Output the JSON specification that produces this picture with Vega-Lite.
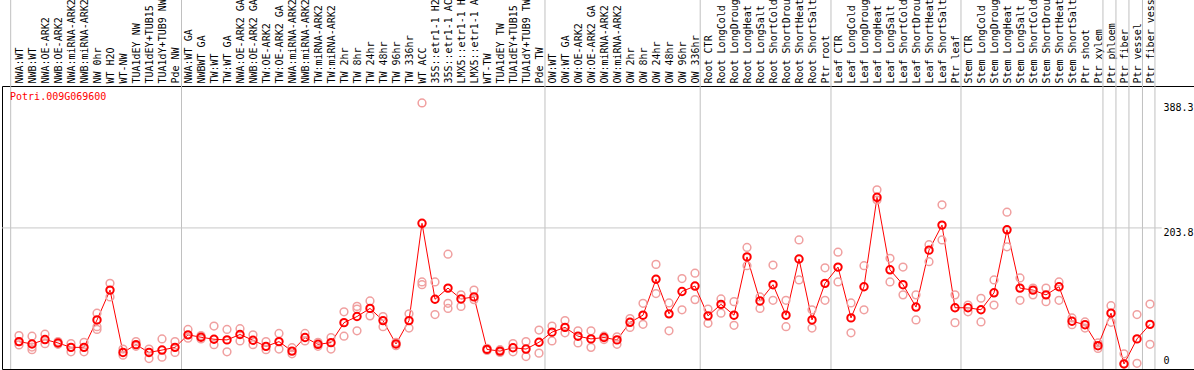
{
  "$schema": "https://vega.github.io/schema/vega-lite/v6.json",
  "width": 1192,
  "height": 283,
  "autosize": {"type": "none"},
  "padding": {"left": 2, "top": 86, "right": 0, "bottom": 1},
  "background": "white",
  "config": {"view": {"stroke": "#000000", "strokeWidth": 1}, "font": "DejaVu Sans Mono"},
  "datasets": {
    "means": [
      {"sample": "NWA:WT", "mean": 36}, {"sample": "NWB:WT", "mean": 32.5}, {"sample": "NWA:OE-ARK2", "mean": 39}, {"sample": "NWB:OE-ARK2", "mean": 34},
      {"sample": "NWA:miRNA-ARK2", "mean": 27.5}, {"sample": "NWB:miRNA-ARK2", "mean": 27.5}, {"sample": "NW 0hr", "mean": 68}, {"sample": "WT H2O", "mean": 112},
      {"sample": "WT-NW", "mean": 20}, {"sample": "TUA1dEY NW", "mean": 31.5}, {"sample": "TUA1dEY+TUB15 NW", "mean": 20}, {"sample": "TUA1dY+TUB9 NW", "mean": 23.5},
      {"sample": "Pde NW", "mean": 27.5}, {"sample": "NWA:WT GA", "mean": 46}, {"sample": "NWBWT GA", "mean": 42.5}, {"sample": "TW:WT", "mean": 39.5},
      {"sample": "TW:WT GA", "mean": 38.5}, {"sample": "NWA:OE-ARK2 GA", "mean": 46.5}, {"sample": "NWB:OE-ARK2 GA", "mean": 38}, {"sample": "TW:OE-ARK2", "mean": 29},
      {"sample": "TW:OE-ARK2 GA", "mean": 36}, {"sample": "NWA:miRNA-ARK2 GA", "mean": 22}, {"sample": "NWB:miRNA-ARK2 GA", "mean": 42}, {"sample": "TW:miRNA-ARK2", "mean": 32},
      {"sample": "TW:miRNA-ARK2 GA", "mean": 34.5}, {"sample": "TW 2hr", "mean": 64}, {"sample": "TW 8hr", "mean": 73}, {"sample": "TW 24hr", "mean": 85},
      {"sample": "TW 48hr", "mean": 67}, {"sample": "TW 96hr", "mean": 32.5}, {"sample": "TW 336hr", "mean": 67}, {"sample": "WT ACC", "mean": 210.6},
      {"sample": "35S::etr1-1 H2O", "mean": 98.5}, {"sample": "35S::etr1-1 ACC", "mean": 115}, {"sample": "LMX5::etr1-1 H2O", "mean": 99}, {"sample": "LMX5::etr1-1 ACC", "mean": 102},
      {"sample": "WT-TW", "mean": 24.5}, {"sample": "TUA1dEY TW", "mean": 22}, {"sample": "TUA1dEY+TUB15 TW", "mean": 27}, {"sample": "TUA1dY+TUB9 TW", "mean": 25},
      {"sample": "Pde TW", "mean": 35}, {"sample": "OW:WT", "mean": 50}, {"sample": "OW:WT GA", "mean": 57}, {"sample": "OW:OE-ARK2", "mean": 44},
      {"sample": "OW:OE-ARK2 GA", "mean": 40}, {"sample": "OW:miRNA-ARK2", "mean": 42}, {"sample": "OW:miRNA-ARK2 GA", "mean": 38.5}, {"sample": "OW 2hr", "mean": 64.5},
      {"sample": "OW 8hr", "mean": 75}, {"sample": "OW 24hr", "mean": 128}, {"sample": "OW 48hr", "mean": 77}, {"sample": "OW 96hr", "mean": 110},
      {"sample": "OW 336hr", "mean": 118}, {"sample": "Root CTR", "mean": 74}, {"sample": "Root LongCold", "mean": 91}, {"sample": "Root LongDrought", "mean": 75},
      {"sample": "Root LongHeat", "mean": 161}, {"sample": "Root LongSalt", "mean": 96}, {"sample": "Root ShortCold", "mean": 120}, {"sample": "Root ShortDrought", "mean": 75},
      {"sample": "Root ShortHeat", "mean": 158}, {"sample": "Root ShortSalt", "mean": 68}, {"sample": "Ptr root", "mean": 122}, {"sample": "Leaf CTR", "mean": 146},
      {"sample": "Leaf LongCold", "mean": 71}, {"sample": "Leaf LongDrought", "mean": 117}, {"sample": "Leaf LongHeat", "mean": 249}, {"sample": "Leaf LongSalt", "mean": 142},
      {"sample": "Leaf ShortCold", "mean": 120}, {"sample": "Leaf ShortDrought", "mean": 87}, {"sample": "Leaf ShortHeat", "mean": 171}, {"sample": "Leaf ShortSalt", "mean": 208},
      {"sample": "Ptr leaf", "mean": 86}, {"sample": "Stem CTR", "mean": 86}, {"sample": "Stem LongCold", "mean": 83}, {"sample": "Stem LongDrought", "mean": 108},
      {"sample": "Stem LongHeat", "mean": 201}, {"sample": "Stem LongSalt", "mean": 115}, {"sample": "Stem ShortCold", "mean": 112}, {"sample": "Stem ShortDrought", "mean": 105},
      {"sample": "Stem ShortHeat", "mean": 117}, {"sample": "Stem ShortSalt", "mean": 66}, {"sample": "Ptr shoot", "mean": 61}, {"sample": "Ptr xylem", "mean": 30},
      {"sample": "Ptr phloem", "mean": 78}, {"sample": "Ptr fiber", "mean": 3}, {"sample": "Ptr vessel", "mean": 40}, {"sample": "Ptr fiber vessel", "mean": 61.5}
    ],
    "reps": [
      {"sample": "NWA:WT", "value": 45}, {"sample": "NWA:WT", "value": 31}, {"sample": "NWA:WT", "value": 36},
      {"sample": "NWB:WT", "value": 44}, {"sample": "NWB:WT", "value": 24}, {"sample": "NWB:WT", "value": 28},
      {"sample": "NWA:OE-ARK2", "value": 47}, {"sample": "NWA:OE-ARK2", "value": 33},
      {"sample": "NWB:OE-ARK2", "value": 36}, {"sample": "NWB:OE-ARK2", "value": 32},
      {"sample": "NWA:miRNA-ARK2", "value": 33}, {"sample": "NWA:miRNA-ARK2", "value": 21},
      {"sample": "NWB:miRNA-ARK2", "value": 35}, {"sample": "NWB:miRNA-ARK2", "value": 21},
      {"sample": "NW 0hr", "value": 78}, {"sample": "NW 0hr", "value": 58}, {"sample": "NW 0hr", "value": 54},
      {"sample": "WT H2O", "value": 122}, {"sample": "WT H2O", "value": 102},
      {"sample": "WT-NW", "value": 25}, {"sample": "WT-NW", "value": 16},
      {"sample": "TUA1dEY NW", "value": 36}, {"sample": "TUA1dEY NW", "value": 29},
      {"sample": "TUA1dEY+TUB15 NW", "value": 25}, {"sample": "TUA1dEY+TUB15 NW", "value": 11},
      {"sample": "TUA1dY+TUB9 NW", "value": 40}, {"sample": "TUA1dY+TUB9 NW", "value": 13},
      {"sample": "Pde NW", "value": 36}, {"sample": "Pde NW", "value": 20},
      {"sample": "NWA:WT GA", "value": 54}, {"sample": "NWA:WT GA", "value": 41},
      {"sample": "NWBWT GA", "value": 45}, {"sample": "NWBWT GA", "value": 40},
      {"sample": "TW:WT", "value": 59}, {"sample": "TW:WT", "value": 31.5},
      {"sample": "TW:WT GA", "value": 54}, {"sample": "TW:WT GA", "value": 21},
      {"sample": "NWA:OE-ARK2 GA", "value": 55}, {"sample": "NWA:OE-ARK2 GA", "value": 37},
      {"sample": "NWB:OE-ARK2 GA", "value": 46}, {"sample": "NWB:OE-ARK2 GA", "value": 31.5},
      {"sample": "TW:OE-ARK2", "value": 36}, {"sample": "TW:OE-ARK2", "value": 24},
      {"sample": "TW:OE-ARK2 GA", "value": 48}, {"sample": "TW:OE-ARK2 GA", "value": 25},
      {"sample": "NWA:miRNA-ARK2 GA", "value": 27}, {"sample": "NWA:miRNA-ARK2 GA", "value": 18},
      {"sample": "NWB:miRNA-ARK2 GA", "value": 48}, {"sample": "NWB:miRNA-ARK2 GA", "value": 37},
      {"sample": "TW:miRNA-ARK2", "value": 35}, {"sample": "TW:miRNA-ARK2", "value": 29},
      {"sample": "TW:miRNA-ARK2 GA", "value": 42}, {"sample": "TW:miRNA-ARK2 GA", "value": 25},
      {"sample": "TW 2hr", "value": 80}, {"sample": "TW 2hr", "value": 44},
      {"sample": "TW 8hr", "value": 88}, {"sample": "TW 8hr", "value": 84}, {"sample": "TW 8hr", "value": 52},
      {"sample": "TW 24hr", "value": 96}, {"sample": "TW 24hr", "value": 74},
      {"sample": "TW 48hr", "value": 73}, {"sample": "TW 48hr", "value": 58},
      {"sample": "TW 96hr", "value": 30}, {"sample": "TW 96hr", "value": 35},
      {"sample": "TW 336hr", "value": 77}, {"sample": "TW 336hr", "value": 56},
      {"sample": "WT ACC", "value": 388.3}, {"sample": "WT ACC", "value": 120}, {"sample": "WT ACC", "value": 124},
      {"sample": "35S::etr1-1 H2O", "value": 124}, {"sample": "35S::etr1-1 H2O", "value": 76},
      {"sample": "35S::etr1-1 ACC", "value": 165}, {"sample": "35S::etr1-1 ACC", "value": 92.5}, {"sample": "35S::etr1-1 ACC", "value": 85},
      {"sample": "LMX5::etr1-1 H2O", "value": 105}, {"sample": "LMX5::etr1-1 H2O", "value": 88},
      {"sample": "LMX5::etr1-1 ACC", "value": 112}, {"sample": "LMX5::etr1-1 ACC", "value": 98},
      {"sample": "WT-TW", "value": 26}, {"sample": "WT-TW", "value": 23},
      {"sample": "TUA1dEY TW", "value": 24}, {"sample": "TUA1dEY TW", "value": 20},
      {"sample": "TUA1dEY+TUB15 TW", "value": 33}, {"sample": "TUA1dEY+TUB15 TW", "value": 21},
      {"sample": "TUA1dY+TUB9 TW", "value": 36}, {"sample": "TUA1dY+TUB9 TW", "value": 14},
      {"sample": "Pde TW", "value": 53}, {"sample": "Pde TW", "value": 19},
      {"sample": "OW:WT", "value": 59}, {"sample": "OW:WT", "value": 37},
      {"sample": "OW:WT GA", "value": 67}, {"sample": "OW:WT GA", "value": 49},
      {"sample": "OW:OE-ARK2", "value": 52}, {"sample": "OW:OE-ARK2", "value": 34},
      {"sample": "OW:OE-ARK2 GA", "value": 52}, {"sample": "OW:OE-ARK2 GA", "value": 27.5},
      {"sample": "OW:miRNA-ARK2", "value": 44}, {"sample": "OW:miRNA-ARK2", "value": 39},
      {"sample": "OW:miRNA-ARK2 GA", "value": 43}, {"sample": "OW:miRNA-ARK2 GA", "value": 32},
      {"sample": "OW 2hr", "value": 70}, {"sample": "OW 2hr", "value": 57},
      {"sample": "OW 8hr", "value": 92.5}, {"sample": "OW 8hr", "value": 61.5},
      {"sample": "OW 24hr", "value": 150}, {"sample": "OW 24hr", "value": 107},
      {"sample": "OW 48hr", "value": 93}, {"sample": "OW 48hr", "value": 52},
      {"sample": "OW 96hr", "value": 129}, {"sample": "OW 96hr", "value": 83},
      {"sample": "OW 336hr", "value": 137}, {"sample": "OW 336hr", "value": 98},
      {"sample": "Root CTR", "value": 84}, {"sample": "Root CTR", "value": 63},
      {"sample": "Root LongCold", "value": 99}, {"sample": "Root LongCold", "value": 78},
      {"sample": "Root LongDrought", "value": 95}, {"sample": "Root LongDrought", "value": 60},
      {"sample": "Root LongHeat", "value": 175}, {"sample": "Root LongHeat", "value": 148},
      {"sample": "Root LongSalt", "value": 102}, {"sample": "Root LongSalt", "value": 85},
      {"sample": "Root ShortCold", "value": 149}, {"sample": "Root ShortCold", "value": 97},
      {"sample": "Root ShortDrought", "value": 97}, {"sample": "Root ShortDrought", "value": 58},
      {"sample": "Root ShortHeat", "value": 186}, {"sample": "Root ShortHeat", "value": 127},
      {"sample": "Root ShortSalt", "value": 83}, {"sample": "Root ShortSalt", "value": 56},
      {"sample": "Ptr root", "value": 145}, {"sample": "Ptr root", "value": 97},
      {"sample": "Leaf CTR", "value": 168}, {"sample": "Leaf CTR", "value": 124},
      {"sample": "Leaf LongCold", "value": 93}, {"sample": "Leaf LongCold", "value": 49},
      {"sample": "Leaf LongDrought", "value": 148}, {"sample": "Leaf LongDrought", "value": 83},
      {"sample": "Leaf LongHeat", "value": 260}, {"sample": "Leaf LongHeat", "value": 245},
      {"sample": "Leaf LongSalt", "value": 159}, {"sample": "Leaf LongSalt", "value": 124},
      {"sample": "Leaf ShortCold", "value": 146}, {"sample": "Leaf ShortCold", "value": 105},
      {"sample": "Leaf ShortDrought", "value": 105}, {"sample": "Leaf ShortDrought", "value": 68},
      {"sample": "Leaf ShortHeat", "value": 179}, {"sample": "Leaf ShortHeat", "value": 154},
      {"sample": "Leaf ShortSalt", "value": 238}, {"sample": "Leaf ShortSalt", "value": 186},
      {"sample": "Ptr leaf", "value": 105}, {"sample": "Ptr leaf", "value": 64},
      {"sample": "Stem CTR", "value": 90}, {"sample": "Stem CTR", "value": 80},
      {"sample": "Stem LongCold", "value": 100}, {"sample": "Stem LongCold", "value": 65},
      {"sample": "Stem LongDrought", "value": 127}, {"sample": "Stem LongDrought", "value": 90},
      {"sample": "Stem LongHeat", "value": 227}, {"sample": "Stem LongHeat", "value": 176},
      {"sample": "Stem LongSalt", "value": 130}, {"sample": "Stem LongSalt", "value": 97},
      {"sample": "Stem ShortCold", "value": 115}, {"sample": "Stem ShortCold", "value": 105},
      {"sample": "Stem ShortDrought", "value": 115}, {"sample": "Stem ShortDrought", "value": 95},
      {"sample": "Stem ShortHeat", "value": 124}, {"sample": "Stem ShortHeat", "value": 97},
      {"sample": "Stem ShortSalt", "value": 71}, {"sample": "Stem ShortSalt", "value": 61},
      {"sample": "Ptr shoot", "value": 65}, {"sample": "Ptr shoot", "value": 56},
      {"sample": "Ptr xylem", "value": 34}, {"sample": "Ptr xylem", "value": 26},
      {"sample": "Ptr phloem", "value": 89}, {"sample": "Ptr phloem", "value": 64.5},
      {"sample": "Ptr fiber", "value": 18}, {"sample": "Ptr fiber", "value": 4},
      {"sample": "Ptr vessel", "value": 76}, {"sample": "Ptr vessel", "value": 4},
      {"sample": "Ptr fiber vessel", "value": 91.5}, {"sample": "Ptr fiber vessel", "value": 32}
    ],
    "seps": [
      {"sep": 0.36}, {"sep": 13.5}, {"sep": 41.46}, {"sep": 53.4}, {"sep": 63.46}, {"sep": 73.46},
      {"sep": 84.38}, {"sep": 85.38}, {"sep": 86.38}, {"sep": 87.42}, {"sep": 88.38}
    ],
    "gene": [{"gene": "Potri.009G069600"}]
  },
  "layer": [
    {
      "layer": [
        {
          "data": {"name": "seps"},
          "mark": {"type": "rule", "color": "#c0c0c0", "strokeWidth": 1},
          "encoding": {
            "x": {"field": "sep", "type": "quantitative", "scale": {"domain": [-0.3077, 91.3846], "nice": false, "zero": false}, "axis": null},
            "y": {"datum": -4.43, "type": "quantitative"},
            "y2": {"datum": 545}
          }
        },
        {
          "data": {"values": [{}]},
          "mark": {"type": "rule", "color": "#c8c8c8", "strokeWidth": 1},
          "encoding": {
            "x": {"datum": -0.31, "type": "quantitative"},
            "x2": {"datum": 88.9},
            "y": {"datum": 203.8, "type": "quantitative"}
          }
        },
        {
          "data": {"name": "gene"},
          "mark": {"type": "text", "align": "left", "baseline": "middle", "color": "#ff0000", "fontSize": 10, "font": "DejaVu Sans Mono"},
          "encoding": {
            "x": {"datum": 0.31, "type": "quantitative"},
            "y": {"datum": 397, "type": "quantitative"},
            "text": {"field": "gene"}
          }
        }
      ]
    },
    {
      "layer": [
        {
          "data": {"name": "means"},
          "mark": {"type": "line", "color": "#ff0000", "strokeWidth": 1},
          "encoding": {
            "x": {
              "field": "sample", "type": "nominal", "sort": null,
              "scale": {"type": "point", "range": [17, 1148], "padding": 0},
              "axis": {"orient": "top", "labelAngle": -90, "labelAlign": "left", "labelBaseline": "middle", "ticks": false, "domain": false, "labelPadding": 3, "labelFontSize": 10, "labelFont": "DejaVu Sans Mono", "labelColor": "#000000", "title": null, "labelOverlap": false, "labelLimit": 0, "labelBound": false, "labelFlush": false}
            },
            "y": {
              "field": "mean", "type": "quantitative",
              "scale": {"domain": [-4.43, 413.3], "nice": false, "zero": false},
              "axis": {"orient": "right", "values": [0, 203.8, 388.3], "format": ".1~f", "ticks": false, "domain": false, "grid": false, "labelPadding": -31, "labelAlign": "left", "labelBaseline": {"condition": {"test": "datum.value == 0", "value": "bottom"}, "value": "top"}, "labelFontSize": 10, "labelFont": "DejaVu Sans Mono", "labelColor": "#000000", "title": null}
            }
          }
        },
        {
          "data": {"name": "reps"},
          "mark": {"type": "point", "shape": "circle", "filled": false, "stroke": "#f0a0a0", "strokeWidth": 1.5, "size": 60, "opacity": 1},
          "encoding": {
            "x": {"field": "sample", "type": "nominal", "sort": null},
            "y": {"field": "value", "type": "quantitative"}
          }
        },
        {
          "data": {"name": "means"},
          "mark": {"type": "point", "shape": "circle", "filled": false, "stroke": "#ff0000", "strokeWidth": 2, "size": 55, "opacity": 1},
          "encoding": {
            "x": {"field": "sample", "type": "nominal", "sort": null},
            "y": {"field": "mean", "type": "quantitative"}
          }
        }
      ]
    }
  ],
  "resolve": {"scale": {"x": "independent"}, "axis": {"x": "independent"}}
}
